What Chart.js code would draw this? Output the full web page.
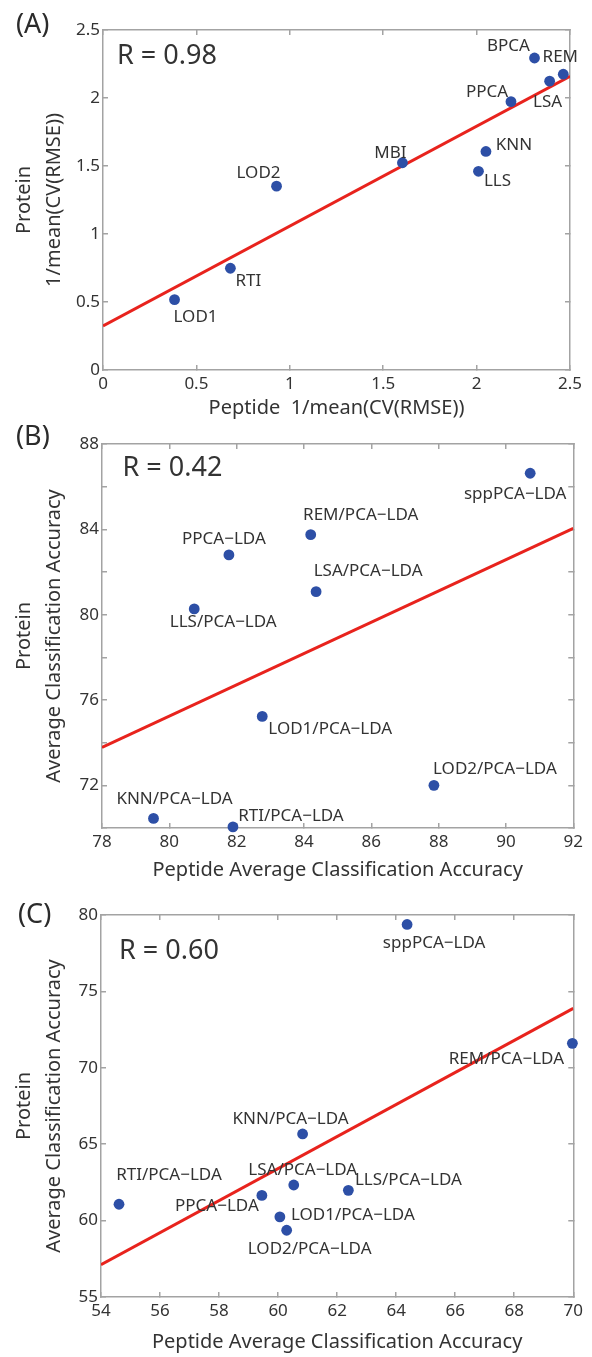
<!DOCTYPE html>
<html>
<head>
<meta charset="utf-8">
<script src="https://cdn.jsdelivr.net/npm/chart.js@4.4.1/dist/chart.umd.min.js"></script>
<style>
  html, body { margin: 0; padding: 0; background: #fff; }
  body { width: 592px; height: 1357px; position: relative; overflow: hidden; font-family: 'Noto Sans', sans-serif; }
  canvas { position: absolute; left: 0; }
  .tag { position: absolute; font-size: 27px; line-height: 1; color: #2b2b2b; z-index: 2; }
</style>
</head>
<body>
<div class="tag" style="left:16px;top:9px">(A)</div>
<div class="tag" style="left:16px;top:421px">(B)</div>
<div class="tag" style="left:18px;top:899px">(C)</div>
<canvas id="chartA" width="592" height="440" style="top:0"></canvas>
<canvas id="chartB" width="592" height="480" style="top:410px"></canvas>
<canvas id="chartC" width="592" height="477" style="top:880px"></canvas>
<script>
// ---- (A) imputation error ----
const namesA = ['BPCA', 'REM', 'LSA', 'PPCA', 'MBI', 'KNN', 'LLS', 'LOD2', 'RTI', 'LOD1'];
const peptideA = [2.31, 2.464, 2.391, 2.184, 1.603, 2.05, 2.01, 0.929, 0.682, 0.383];
const proteinA = [2.294, 2.175, 2.124, 1.973, 1.524, 1.607, 1.461, 1.352, 0.748, 0.517];
const fitXA = [0, 2.5];
const fitYA = [0.324, 2.16];
const rTextA = 'R = 0.98';
const rAtA = [0.075, 2.31];        // where the R text sits, in data units
const ticksXA = [0, 0.5, 1, 1.5, 2, 2.5];
const labelsXA = ['0', '0.5', '1', '1.5', '2', '2.5'];
const ticksYA = [0, 0.5, 1, 1.5, 2, 2.5];
const labelsYA = ['0', '0.5', '1', '1.5', '2', '2.5'];

// ---- (B) classification accuracy ----
const namesB = ['sppPCA\u2212LDA', 'REM/PCA\u2212LDA', 'PPCA\u2212LDA', 'LSA/PCA\u2212LDA', 'LLS/PCA\u2212LDA',
                'LOD1/PCA\u2212LDA', 'LOD2/PCA\u2212LDA', 'KNN/PCA\u2212LDA', 'RTI/PCA\u2212LDA'];
const peptideB = [90.72, 84.2, 81.77, 84.36, 80.74, 82.76, 87.86, 79.53, 81.89];
const proteinB = [86.63, 83.75, 82.8, 81.08, 80.27, 75.23, 72.0, 70.45, 70.05];
const fitXB = [78, 92];
const fitYB = [73.78, 84.05];
const rTextB = 'R = 0.42';
const rAtB = [78.61, 86.86];
const ticksXB = [78, 80, 82, 84, 86, 88, 90, 92];
const labelsXB = ['78', '80', '82', '84', '86', '88', '90', '92'];
const ticksYB = [70, 72, 74, 76, 78, 80, 82, 84, 86, 88];
const labelsYB = ['', '72', '', '76', '', '80', '', '84', '', '88'];

// ---- (C) classification accuracy ----
const namesC = ['sppPCA\u2212LDA', 'REM/PCA\u2212LDA', 'KNN/PCA\u2212LDA', 'RTI/PCA\u2212LDA', 'PPCA\u2212LDA',
                'LSA/PCA\u2212LDA', 'LLS/PCA\u2212LDA', 'LOD1/PCA\u2212LDA', 'LOD2/PCA\u2212LDA'];
const peptideC = [64.37, 69.97, 60.83, 54.61, 59.45, 60.53, 62.38, 60.06, 60.29];
const proteinC = [79.38, 71.6, 65.67, 61.07, 61.65, 62.33, 61.98, 60.24, 59.37];
const fitXC = [54, 70];
const fitYC = [57.11, 73.89];
const rTextC = 'R = 0.60';
const rAtC = [54.61, 77.6];
const ticksXC = [54, 56, 58, 60, 62, 64, 66, 68, 70];
const labelsXC = ['54', '56', '58', '60', '62', '64', '66', '68', '70'];
const ticksYC = [55, 60, 65, 70, 75, 80];
const labelsYC = ['55', '60', '65', '70', '75', '80'];

// label offsets (px from the dot to the text centre)
const offsetsA = [[-26, -12], [-3, -17], [-2, 21], [-24, -10], [-12, -10], [28, -6], [19, 10], [-18, -13], [18, 13], [21, 17]];
const offsetsB = [[-15, 21], [50, -20], [-5, -16], [52, -20], [29, 13], [68, 13], [61, -16], [21, -19], [58, -11]];
const offsetsC = [[27, 19], [-66, 16], [-12, -15], [50, -29], [-45, 11], [9, -15], [60, -10], [73, -2], [23, 19]];

Chart.defaults.font.family = "'Noto Sans', sans-serif";
Chart.defaults.color = '#333';

const frameColor = '#a3a3a3';
const dotColor = '#2d4fa6';
const lineColor = '#e8231d';

// draws the method names next to each dot and the R value
const pointNames = {
    id: 'pointNames',
    afterDatasetsDraw(chart, args, opts) {
        const ctx = chart.ctx;
        const meta = chart.getDatasetMeta(1);
        ctx.save();
        ctx.fillStyle = '#333';
        ctx.textBaseline = 'middle';
        ctx.textAlign = 'center';
        ctx.font = "17px 'Noto Sans'";
        meta.data.forEach(function (p, i) {
            ctx.fillText(opts.names[i], p.x + opts.offsets[i][0], p.y + opts.offsets[i][1]);
        });
        ctx.textAlign = 'left';
        ctx.font = "27px 'Noto Sans'";
        ctx.fillText(opts.rText, chart.scales.x.getPixelForValue(opts.rAt[0]), chart.scales.y.getPixelForValue(opts.rAt[1]));
        ctx.restore();
    }
};

function setTicks(values) {
    return function (scale) { scale.ticks = values.map(v => ({ value: v })); };
}

function makeChart(id, p) {
    const points = p.peptide.map((x, i) => ({ x: x, y: p.protein[i] }));
    const fit = p.fitX.map((x, i) => ({ x: x, y: p.fitY[i] }));
    const grid = { drawOnChartArea: false, tickLength: -5, color: frameColor, lineWidth: 1.5 };
    const border = { color: frameColor, width: 1.5 };
    return new Chart(document.getElementById(id), {
        type: 'scatter',
        data: {
            datasets: [{
                data: fit,
                showLine: true,
                borderColor: lineColor,
                borderWidth: 3,
                pointRadius: 0,
                order: 1
            }, {
                data: points,
                backgroundColor: dotColor,
                borderWidth: 0,
                pointRadius: 5.4,
                clip: false,
                order: 0
            }]
        },
        options: {
            responsive: false,
            animation: false,
            events: [],
            layout: { padding: { top: p.top, right: p.right, left: 0, bottom: 0 } },
            plugins: {
                legend: { display: false },
                tooltip: { enabled: false },
                pointNames: { names: p.names, offsets: p.offsets, rText: p.rText, rAt: p.rAt }
            },
            scales: {
                x: {
                    type: 'linear', position: 'bottom', min: p.fitX[0], max: p.fitX[1],
                    afterBuildTicks: setTicks(p.ticksX),
                    afterFit: s => { s.height = p.xHeight; },
                    ticks: { callback: (v, i) => p.labelsX[i], font: { size: 17 }, padding: 9, maxRotation: 0, autoSkip: false, color: '#333' },
                    grid: grid, border: border,
                    title: { display: true, text: p.xTitle, font: { size: 20, lineHeight: 1.2 }, padding: { top: 0, bottom: p.xTitlePad }, color: '#333' }
                },
                y: {
                    type: 'linear', position: 'left', min: p.ticksY[0], max: p.ticksY[p.ticksY.length - 1],
                    afterBuildTicks: setTicks(p.ticksY),
                    afterFit: s => { s.width = p.yWidth; },
                    ticks: { callback: (v, i) => p.labelsY[i], font: { size: 17 }, padding: 8, autoSkip: false, color: '#333' },
                    grid: grid, border: border,
                    title: { display: true, text: p.yTitle, font: { size: 20, lineHeight: 1.5 }, padding: { top: 9, bottom: 0 }, color: '#333' }
                },
                x2: {
                    type: 'linear', position: 'top', min: p.fitX[0], max: p.fitX[1],
                    afterBuildTicks: setTicks(p.ticksX),
                    afterFit: s => { s.height = 0; },
                    ticks: { display: false },
                    grid: grid, border: border
                },
                y2: {
                    type: 'linear', position: 'right', min: p.ticksY[0], max: p.ticksY[p.ticksY.length - 1],
                    afterBuildTicks: setTicks(p.ticksY),
                    afterFit: s => { s.width = 0; },
                    ticks: { display: false },
                    grid: grid, border: border
                }
            }
        },
        plugins: [pointNames]
    });
}

window.onload = function () {
    makeChart('chartA', {
        names: namesA, peptide: peptideA, protein: proteinA, fitX: fitXA, fitY: fitYA,
        rText: rTextA, rAt: rAtA, offsets: offsetsA,
        ticksX: ticksXA, labelsX: labelsXA, ticksY: ticksYA, labelsY: labelsYA,
        xTitle: 'Peptide  1/mean(CV(RMSE))', yTitle: ['Protein', '1/mean(CV(RMSE))'],
        top: 30, right: 22, xHeight: 70, yWidth: 103, xTitlePad: 20
    });
    makeChart('chartB', {
        names: namesB, peptide: peptideB, protein: proteinB, fitX: fitXB, fitY: fitYB,
        rText: rTextB, rAt: rAtB, offsets: offsetsB,
        ticksX: ticksXB, labelsX: labelsXB, ticksY: ticksYB, labelsY: labelsYB,
        xTitle: 'Peptide Average Classification Accuracy', yTitle: ['Protein', 'Average Classification Accuracy'],
        top: 34, right: 15, xHeight: 62, yWidth: 102, xTitlePad: 8
    });
    makeChart('chartC', {
        names: namesC, peptide: peptideC, protein: proteinC, fitX: fitXC, fitY: fitYC,
        rText: rTextC, rAt: rAtC, offsets: offsetsC,
        ticksX: ticksXC, labelsX: labelsXC, ticksY: ticksYC, labelsY: labelsYC,
        xTitle: 'Peptide Average Classification Accuracy', yTitle: ['Protein', 'Average Classification Accuracy'],
        top: 35, right: 15, xHeight: 60, yWidth: 101, xTitlePad: 3
    });
};
</script>
</body>
</html>
